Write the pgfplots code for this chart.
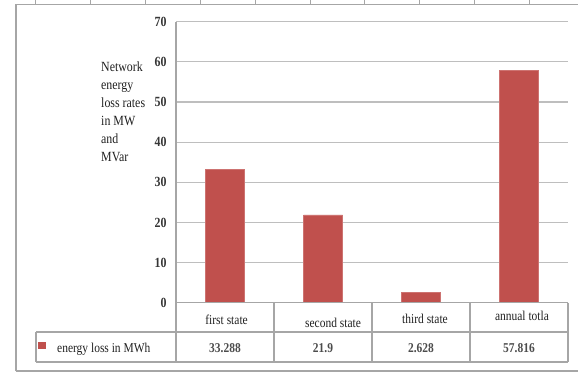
\documentclass[border=0pt]{standalone}
\usepackage{fontspec}
\setmainfont{Liberation Serif}
\newfontfamily\chartfont{Liberation Serif}[FakeStretch=0.85]
\usepackage{pgfplots}
\usepackage{pgfplotstable}
\pgfplotsset{compat=1.18}

\definecolor{barred}{HTML}{C0504D}
\definecolor{gridgray}{HTML}{BEBEBE}
\definecolor{framegray}{HTML}{A6A6A6}
\definecolor{txt}{HTML}{202020}

\newcommand\tablefont{\chartfont\fontsize{13.5}{14}\selectfont}
\newcommand\tickfont{\chartfont\fontsize{14}{15}\selectfont\bfseries}

% energy loss per state (MWh)
\pgfplotstableread{
x label value
0 {first state} 33.288
1 {second state} 21.9
2 {third state} 2.628
3 {annual totla} 57.816
}\lossdata

\begin{document}
\begin{tikzpicture}[x=1pt,y=1pt]
\useasboundingbox (0,0) rectangle (578,373);

% outer chart frame with the sheet strip along the top
\draw[framegray, line width=1.1pt] (16,2) -- (16,368.5) -- (578,368.5);
\draw[framegray, line width=1.1pt] (16,2) -- (578,2);
\foreach \t in {35,90,145,200,255,310,364,419,474,529}
  \draw[framegray, line width=0.8pt] (\t,368.5) -- (\t,373);

\begin{axis}[
  at={(176pt,70.3pt)}, anchor=south west,
  scale only axis, width=392pt, height=281pt,
  xmin=-0.5, xmax=3.5, ymin=0, ymax=70,
  xtick=\empty,
  ytick={0,10,...,70},
  ymajorgrids,
  grid style={gridgray, line width=1.2pt},
  axis x line=none,
  axis y line*=left,
  axis line style={-, framegray, line width=1.2pt},
  major tick length=0pt,
  /pgf/number format/assume math mode=true,
  yticklabel style={font=\tickfont, text=txt!90!white, xshift=-6pt},
  clip=false,
]
\addplot[ybar, bar width=39pt, fill=barred, draw=barred!80!white, line width=0.5pt]
  table[x=x, y=value] {\lossdata};
\end{axis}

% data table under the plot
\begin{scope}[framegray, line width=1.2pt]
  \draw (176,70.3) -- (568,70.3);
  \draw (36,41) -- (568,41);
  \draw (36,11) -- (568,11);
  \draw (36,41) -- (36,11);
  \foreach \vx in {176,274,372,470,568}
    \draw (\vx,70.3) -- (\vx,11);
\end{scope}

% category row
\foreach \i/\cx/\cy in {0/226.6/53, 1/333/50, 2/425/54, 3/522/57}{
  \pgfplotstablegetelem{\i}{label}\of\lossdata
  \node[font=\tablefont, text=txt] at (\cx,\cy) {\pgfplotsretval};
}
% value row
\foreach \i/\cx in {0/225, 1/323, 2/421, 3/519}{
  \pgfplotstablegetelem{\i}{value}\of\lossdata
  \node[font=\tablefont\bfseries, text=txt!80!white] at (\cx,25) {\pgfplotsretval};
}

% legend key of the table
\fill[barred] (38,24) rectangle (46,31);
\node[anchor=base west, inner sep=0pt, font=\tablefont, text=txt] at (57,20.5) {energy loss in MWh};

% value axis title
\node[anchor=north west, inner sep=0pt, align=left, text=txt,
      font=\chartfont\fontsize{14}{17.9}\selectfont] at (101,311)
  {Network\\energy\\loss rates\\in MW\\and\\MVar};
\end{tikzpicture}
\end{document}
